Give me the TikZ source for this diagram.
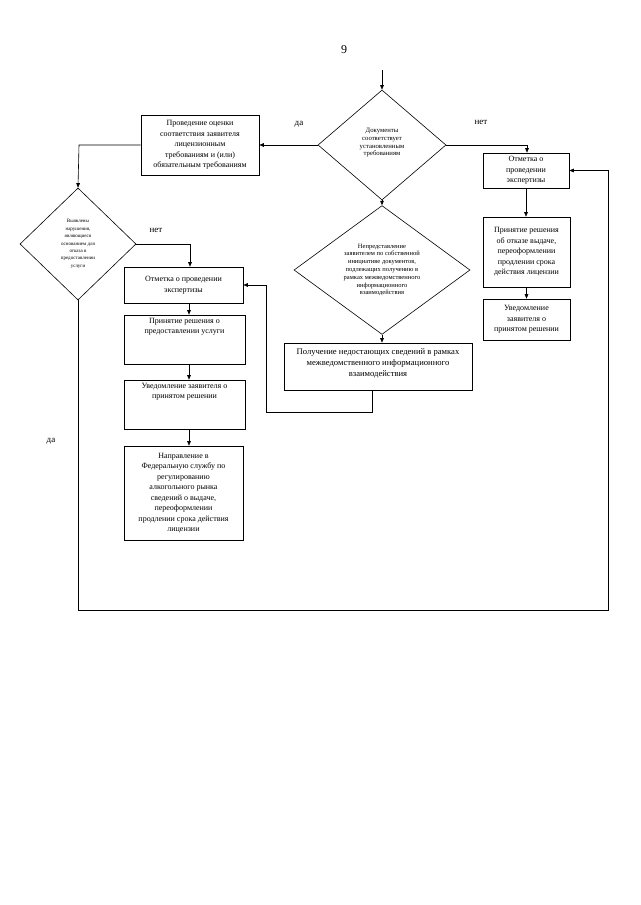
\documentclass[tikz,border=0pt]{standalone}
\usepackage{fontspec}
\setmainfont{Liberation Serif}
\usetikzlibrary{shapes.geometric,arrows.meta,calc}
\tikzset{
  box/.style={draw, line width=0.6pt, inner sep=2pt, align=center, font=\fontsize{8}{10.5}\selectfont},
  dia/.style={draw, line width=0.6pt, shape=diamond, inner sep=0pt, align=center, font=\fontsize{5}{7.4}\selectfont},
  conn/.style={line width=0.6pt, -{Triangle[length=4.5pt,width=3.6pt]}},
  lbl/.style={font=\fontsize{9}{10}\selectfont, inner sep=0pt}
}
\begin{document}
\begin{tikzpicture}[x=1pt,y=-1pt]
\useasboundingbox (0,0) rectangle (640,905);
\node[font=\fontsize{12}{12}\selectfont] (pg) at (344,50) {9};

% diamonds
\node[dia, minimum width=128pt, minimum height=110pt, font=\fontsize{6.7}{7.6}\selectfont] (d1) at (382,145) {\raisebox{0pt}[0pt][0pt]{}\\[-8pt]Документы\\соответствует\\установленным\\требованиям};
\node[dia, minimum width=176pt, minimum height=124pt, font=\fontsize{6.5}{7.8}\selectfont] (d3) at (382,270) {Непредставление\\заявителем по собственной\\инициативе документов,\\подлежащих получению в\\рамках межведомственного\\информационного\\взаимодействия};
\node[dia, minimum width=116pt, minimum height=112pt] (d2) at (78,244) {Выявлены\\нарушения,\\являющиеся\\основанием для\\отказа в\\предоставлении\\услуги};

% left column
\node[box, minimum width=118pt, minimum height=60pt] (b1) at (200,145) {Проведение оценки\\соответствия заявителя\\лицензионным\\требованиям и (или)\\обязательным требованиям};
\node[box, minimum width=119pt, minimum height=36pt] (b2) at (183.5,285) {Отметка о проведении\\экспертизы};
\node[box, minimum width=121pt, minimum height=49pt] (b3) at (184.5,339.5) {\parbox[c][43pt][t]{115pt}{\centering Принятие решения о\\ предоставлении услуги}};
\node[box, minimum width=121pt, minimum height=49pt] (b4) at (184.5,404.5) {\parbox[c][43pt][t]{115pt}{\centering Уведомление заявителя о\\ принятом решении}};
\node[box, minimum width=119pt, minimum height=94pt] (b5) at (183.5,493) {Направление в\\Федеральную службу по\\регулированию\\алкогольного рынка\\сведений о выдаче,\\переоформлении\\продлении срока действия\\лицензии};

% middle
\node[box, minimum width=188pt, minimum height=47pt, font=\fontsize{8.6}{10.6}\selectfont] (b6) at (378,366.5) {\parbox[c][41pt][t]{182pt}{\vspace*{3pt}\centering Получение недостающих сведений в рамках\\ межведомственного информационного\\ взаимодействия}};

% right column
\node[box, minimum width=86pt, minimum height=35pt] (r1) at (526,170.5) {Отметка о\\проведении\\экспертизы};
\node[box, minimum width=87pt, minimum height=70pt] (r2) at (526.5,252) {Принятие решения\\об отказе выдаче,\\переоформлении\\продлении срока\\действия лицензии};
\node[box, minimum width=87pt, minimum height=41pt] (r3) at (526.5,319.5) {Уведомление\\заявителя о\\принятом решении};

% labels
\node[lbl] (l1) at (299,124) {да};
\node[lbl] (l2) at (481,122) {нет};
\node[lbl] (l3) at (156,230) {нет};
\node[lbl] (l4) at (51,441) {да};

% coordinates
\coordinate (top) at (382,70);
\coordinate (c1) at (79,145);
\coordinate (c2) at (527,145);
\coordinate (c3) at (190,244);
\coordinate (c4) at (78,610);
\coordinate (c5) at (608,610);
\coordinate (c6) at (608,170.5);
\coordinate (c7) at (372,412);
\coordinate (c8) at (266,412);
\coordinate (c9) at (266,285);

% connectors
\draw[conn] (top) -- (d1.north);
\draw[conn] (d1.west) -- (d1.west -| b1.east);
\draw[conn] (b1.west) -- (c1) -- (d2.north);
\draw[conn] (d1.east) -- (c2) -- (c2 |- r1.north);
\draw[conn] (d1.south) -- (d3.north);
\draw[conn] (d3.south) -- (d3.south |- b6.north);
\draw[conn] (d2.east) -- (c3) -- (c3 |- b2.north);
\draw[conn] ([xshift=5.5pt]b2.south) -- ([xshift=5.5pt]b2.south |- b3.north);
\draw[conn] ([xshift=4.5pt]b3.south) -- ([xshift=4.5pt]b3.south |- b4.north);
\draw[conn] ([xshift=4.5pt]b4.south) -- ([xshift=4.5pt]b4.south |- b5.north);
\draw[conn] (r1.south) -- (r1.south |- r2.north);
\draw[conn] (r2.south) -- (r2.south |- r3.north);
\draw[conn] (d2.south) -- (c4) -- (c5) -- (c6) -- (r1.east);
\draw[conn] (c7 |- b6.south) -- (c7) -- (c8) -- (c9) -- (b2.east);
\end{tikzpicture}
\end{document}
